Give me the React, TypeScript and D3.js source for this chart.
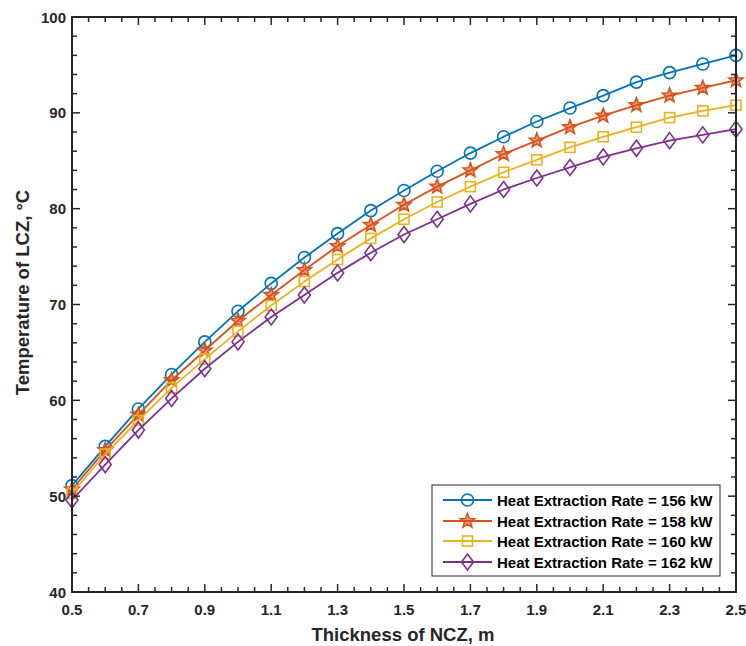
import React from "react";
import * as d3 from "d3";

const thickness = [0.5, 0.6, 0.7, 0.8, 0.9, 1.0, 1.1, 1.2, 1.3, 1.4, 1.5, 1.6, 1.7, 1.8, 1.9, 2.0, 2.1, 2.2, 2.3, 2.4, 2.5];
const rate156 = [51.1, 55.2, 59.1, 62.7, 66.1, 69.3, 72.2, 74.9, 77.4, 79.8, 81.9, 83.9, 85.8, 87.5, 89.1, 90.5, 91.8, 93.2, 94.2, 95.1, 96.0];
const rate158 = [50.7, 54.8, 58.5, 62.1, 65.2, 68.3, 71.0, 73.6, 76.1, 78.3, 80.4, 82.3, 84.0, 85.7, 87.1, 88.5, 89.7, 90.8, 91.8, 92.6, 93.4];
const rate160 = [50.3, 54.4, 57.9, 61.3, 64.3, 67.2, 69.9, 72.4, 74.7, 76.9, 78.9, 80.7, 82.3, 83.8, 85.1, 86.4, 87.5, 88.5, 89.5, 90.2, 90.8];
const rate162 = [49.6, 53.3, 56.9, 60.2, 63.3, 66.1, 68.7, 71.0, 73.3, 75.4, 77.3, 78.9, 80.5, 82.0, 83.2, 84.3, 85.4, 86.3, 87.1, 87.7, 88.3];
const seriesNames = [
  "Heat Extraction Rate = 156 kW",
  "Heat Extraction Rate = 158 kW",
  "Heat Extraction Rate = 160 kW",
  "Heat Extraction Rate = 162 kW",
];
const xTicks = [0.5, 0.7, 0.9, 1.1, 1.3, 1.5, 1.7, 1.9, 2.1, 2.3, 2.5];
const yTicks = [40, 50, 60, 70, 80, 90, 100];

const colors = ["#0072BD", "#D95319", "#EDB120", "#7E2F8E"];
const markers = ["circle", "star", "square", "diamond"];
const seriesValues = [rate156, rate158, rate160, rate162];

const W = 746;
const H = 646;
const M = { left: 72, right: 736, top: 17, bottom: 592 };
const TXT = "#262626";
const FONT = "'Liberation Sans', Arial, Helvetica, sans-serif";

function starPath(r: number) {
  const pts: string[] = [];
  const inner = r * 0.42;
  for (let i = 0; i < 10; i++) {
    const rr = i % 2 === 0 ? r : inner;
    const a = -Math.PI / 2 + (i * Math.PI) / 5;
    pts.push(`${(rr * Math.cos(a)).toFixed(2)},${(rr * Math.sin(a)).toFixed(2)}`);
  }
  return "M" + pts.join("L") + "Z";
}

function Marker({ type, x, y, color }: { type: string; x: number; y: number; color: string }) {
  const common = { fill: "none", stroke: color, strokeWidth: 1.6 };
  if (type === "circle") return <circle cx={x} cy={y} r={6} {...common} />;
  if (type === "square") return <rect x={x - 5} y={y - 5} width={10} height={10} {...common} />;
  if (type === "diamond")
    return <path d={`M${x},${y - 8}L${x + 6},${y}L${x},${y + 8}L${x - 6},${y}Z`} {...common} />;
  return <path d={starPath(7.5)} transform={`translate(${x},${y})`} fill={color} fillOpacity={0.55} stroke={color} strokeWidth={1.6} strokeLinejoin="miter" />;
}

export default function App() {
  const x = d3.scaleLinear().domain([0.5, 2.5]).range([M.left, M.right]);
  const y = d3.scaleLinear().domain([40, 100]).range([M.bottom, M.top]);
  const line = d3
    .line<number>()
    .x((_, i) => x(thickness[i]))
    .y((d) => y(d));

  const xMinor = d3.range(0.5, 2.5001, 0.05).map((v) => +v.toFixed(2));
  const yMinor = d3.range(40, 100.001, 2);

  const legX = 432, legY = 485, legW = 288, legH = 91;
  const rowY = [500, 521, 541, 562];

  return (
    <svg width={W} height={H} style={{ position: "absolute", left: 0, top: 0, background: "#fff" }}>
      <rect x={0} y={0} width={W} height={H} fill="#fff" />
      {seriesValues.map((vals, s) => (
        <g key={s}>
          <path d={line(vals) || ""} fill="none" stroke={colors[s]} strokeWidth={1.8} />
          {vals.map((v, i) => (
            <Marker key={i} type={markers[s]} x={x(thickness[i])} y={y(v)} color={colors[s]} />
          ))}
        </g>
      ))}
      <g stroke={TXT} strokeWidth={1.5}>
        {xMinor.map((v, i) => {
          const major = xTicks.some((t) => Math.abs(t - v) < 1e-6);
          const len = major ? 8 : 5;
          return (
            <g key={"xt" + i}>
              <line x1={x(v)} x2={x(v)} y1={M.bottom} y2={M.bottom - len} />
              <line x1={x(v)} x2={x(v)} y1={M.top} y2={M.top + len} />
            </g>
          );
        })}
        {yMinor.map((v, i) => {
          const major = yTicks.includes(v);
          const len = major ? 8 : 5;
          return (
            <g key={"yt" + i}>
              <line x1={M.left} x2={M.left + len} y1={y(v)} y2={y(v)} />
              <line x1={M.right} x2={M.right - len} y1={y(v)} y2={y(v)} />
            </g>
          );
        })}
      </g>
      <rect x={M.left} y={M.top} width={M.right - M.left} height={M.bottom - M.top} fill="none" stroke={TXT} strokeWidth={2} />
      <g fill={TXT} fontFamily={FONT} fontWeight="bold" fontSize={15}>
        {xTicks.map((t) => (
          <text key={"xl" + t} x={x(t)} y={M.bottom + 23} textAnchor="middle">
            {t.toFixed(1)}
          </text>
        ))}
        {yTicks.map((t) => (
          <text key={"yl" + t} x={M.left - 6} y={y(t) + 5.5} textAnchor="end">
            {t}
          </text>
        ))}
      </g>
      <text x={(M.left + M.right) / 2 - 1} y={641} textAnchor="middle" fill={TXT} fontFamily={FONT} fontWeight="bold" fontSize={18.5}>
        Thickness of NCZ, m
      </text>
      <text transform={`translate(29,${(M.top + M.bottom) / 2 - 12}) rotate(-90)`} textAnchor="middle" fill={TXT} fontFamily={FONT} fontWeight="bold" fontSize={18.5}>
        Temperature of LCZ, °C
      </text>
      <rect x={legX} y={legY} width={legW} height={legH} fill="#fff" stroke={TXT} strokeWidth={1} />
      {seriesNames.map((name, s) => (
        <g key={"lg" + s}>
          <line x1={443} x2={492} y1={rowY[s]} y2={rowY[s]} stroke={colors[s]} strokeWidth={1.8} />
          <Marker type={markers[s]} x={467.5} y={rowY[s]} color={colors[s]} />
          <text x={497} y={rowY[s] + 5.5} fill="#000" fontFamily={FONT} fontWeight="bold" fontSize={15}>
            {name}
          </text>
        </g>
      ))}
    </svg>
  );
}
